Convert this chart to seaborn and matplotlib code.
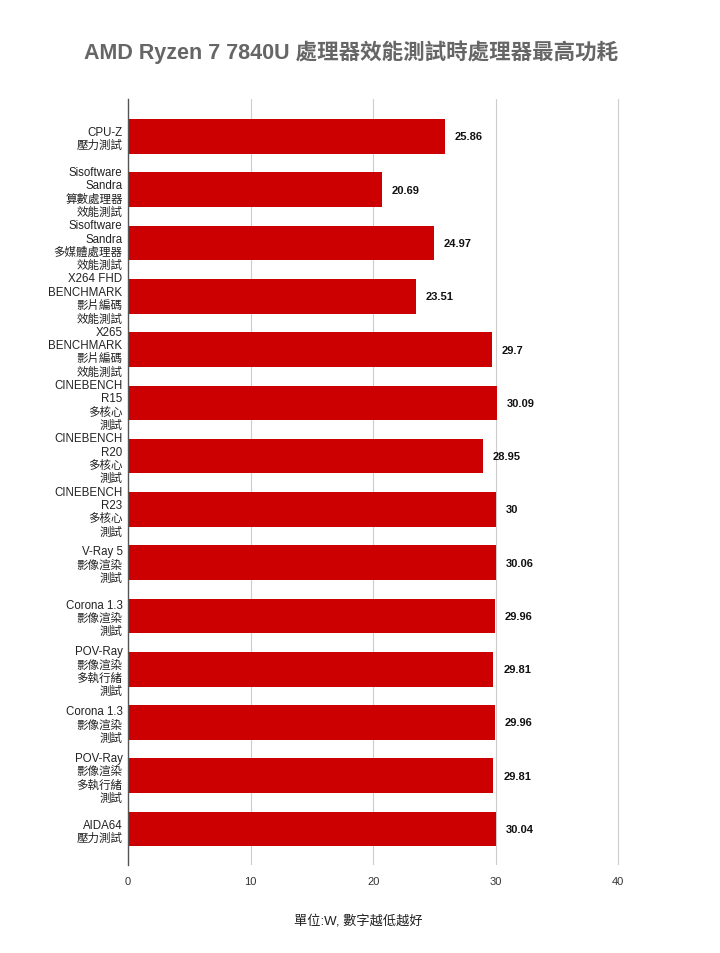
import pandas as pd
import matplotlib.pyplot as plt
import seaborn as sns

# benchmark names and measured max CPU power (W)
labels = [
    "CPU-Z\n壓力測試",
    "Sisoftware\nSandra\n算數處理器\n效能測試",
    "Sisoftware\nSandra\n多媒體處理器\n效能測試",
    "X264 FHD\nBENCHMARK\n影片編碼\n效能測試",
    "X265\nBENCHMARK\n影片編碼\n效能測試",
    "CINEBENCH\nR15\n多核心\n測試",
    "CINEBENCH\nR20\n多核心\n測試",
    "CINEBENCH\nR23\n多核心\n測試",
    "V-Ray 5\n影像渲染\n測試",
    "Corona 1.3\n影像渲染\n測試",
    "POV-Ray\n影像渲染\n多執行緒\n測試",
    "Corona 1.3\n影像渲染\n測試",
    "POV-Ray\n影像渲染\n多執行緒\n測試",
    "AIDA64\n壓力測試",
]
values = [25.86, 20.69, 24.97, 23.51, 29.7, 30.09, 28.95, 30, 30.06, 29.96, 29.81, 29.96, 29.81, 30.04]
value_text = ["25.86", "20.69", "24.97", "23.51", "29.7", "30.09", "28.95", "30", "30.06",
              "29.96", "29.81", "29.96", "29.81", "30.04"]
x_ticks = [0, 10, 20, 30, 40]

sns.set_style("white")
plt.rcParams['font.family'] = ['Liberation Sans', 'Noto Sans CJK TC', 'DejaVu Sans']

df = pd.DataFrame({"pos": range(len(values)), "value": values})

fig = plt.figure(figsize=(7.2, 9.54), dpi=100)
ax = fig.add_axes([0.178, 0.092, 0.6857, 0.803])

sns.barplot(data=df, x="value", y="pos", orient="h", color="#cc0000",
            saturation=1, width=0.65, linewidth=0, edgecolor="none", ax=ax)

for i, (v, t) in enumerate(zip(values, value_text)):
    ax.text(v + 0.8, i, t, va="center", ha="left", fontsize=8,
            fontweight="bold", color="#111111")

ax.set_xlim(0, 40.3)
ax.set_ylim(13.68, -0.70)
ax.set_xticks(x_ticks)
ax.set_xticklabels([str(t) for t in x_ticks], fontsize=8, color="#333333")
ax.set_yticks(range(len(labels)))
ax.set_yticklabels(labels, fontsize=8.3, color="#222222", linespacing=1.15)
ax.tick_params(axis="y", length=0, pad=4)
ax.tick_params(axis="x", length=0, pad=8)

ax.grid(axis="x", color="#cccccc", linewidth=0.8)
ax.set_axisbelow(True)
for side in ["top", "right", "bottom"]:
    ax.spines[side].set_visible(False)
ax.spines["left"].set_color("#555555")
ax.spines["left"].set_linewidth(1)

ax.set_ylabel("")
ax.set_xlabel("")
fig.text(0.497, 0.035, "單位:W, 數字越低越好", ha="center", va="center",
         fontsize=9.5, color="#222222")

fig.suptitle("AMD Ryzen 7 7840U 處理器效能測試時處理器最高功耗", x=0.488, y=0.958,
             fontsize=15.5, fontweight="bold", color="#666666")

fig.savefig("out.png", dpi=100)
